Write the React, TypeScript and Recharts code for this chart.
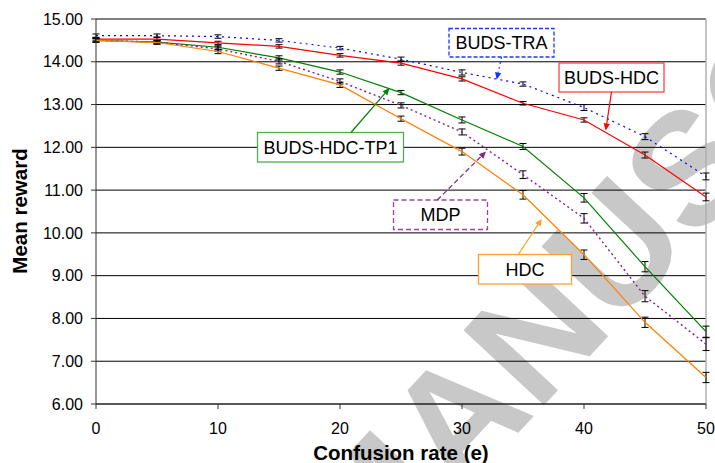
import React from 'react';
import { LineChart, Line, XAxis, YAxis, CartesianGrid, ErrorBar, ReferenceLine } from 'recharts';

// ---- data ----
const confusion = [0, 5, 10, 15, 20, 25, 30, 35, 40, 45, 50];
const budsTra = [14.61, 14.61, 14.59, 14.5, 14.32, 14.06, 13.75, 13.48, 12.93, 12.25, 11.32];
const budsHdc = [14.53, 14.53, 14.44, 14.36, 14.15, 13.97, 13.6, 13.03, 12.64, 11.82, 10.84];
const budsHdcTp1 = [14.5, 14.46, 14.34, 14.09, 13.76, 13.28, 12.64, 12.02, 10.82, 9.21, 7.69];
const mdp = [14.5, 14.46, 14.3, 14.01, 13.54, 12.98, 12.36, 11.36, 10.34, 8.52, 7.4];
const hdc = [14.5, 14.45, 14.24, 13.85, 13.46, 12.67, 11.9, 10.89, 9.49, 7.91, 6.62];

const budsTraErr = [0.04, 0.04, 0.04, 0.04, 0.04, 0.05, 0.06, 0.05, 0.07, 0.07, 0.08];
const budsHdcErr = [0.04, 0.05, 0.04, 0.04, 0.04, 0.05, 0.05, 0.04, 0.05, 0.07, 0.09];
const budsHdcTp1Err = [0.04, 0.04, 0.05, 0.05, 0.05, 0.05, 0.07, 0.07, 0.1, 0.12, 0.13];
const mdpErr = [0.04, 0.04, 0.05, 0.06, 0.06, 0.06, 0.07, 0.09, 0.11, 0.13, 0.15];
const hdcErr = [0.04, 0.04, 0.05, 0.05, 0.06, 0.06, 0.08, 0.1, 0.11, 0.12, 0.12];

const xTicks = [0, 10, 20, 30, 40, 50];
const yTicks = [6, 7, 8, 9, 10, 11, 12, 13, 14, 15];

const xTitle = 'Confusion rate (e)';
const yTitle = 'Mean reward';

const data = confusion.map((e, i) => ({
  e,
  tra: budsTra[i],
  traErr: budsTraErr[i],
  bhdc: budsHdc[i],
  bhdcErr: budsHdcErr[i],
  tp1: budsHdcTp1[i],
  tp1Err: budsHdcTp1Err[i],
  mdp: mdp[i],
  mdpErr: mdpErr[i],
  hdc: hdc[i],
  hdcErr: hdcErr[i],
}));

// ---- annotation callouts (pixel layout) ----
type Callout = {
  text: string;
  box: [number, number, number, number];
  from: [number, number];
  to: [number, number];
  border: string;
  arrow: string;
  boxDash?: string;
  arrowDash?: string;
};

const callouts: Callout[] = [
  { text: 'BUDS-TRA', box: [449, 28.5, 105, 28.5], from: [501.5, 57], to: [496.7, 79.5], border: '#2233ff', arrow: '#1133ff', boxDash: '4 2', arrowDash: '2 3' },
  { text: 'BUDS-HDC', box: [559, 63, 105, 29], from: [611.5, 92], to: [605.7, 130.5], border: '#ff4444', arrow: '#ff0000' },
  { text: 'BUDS-HDC-TP1', box: [257.5, 132.5, 146, 29.5], from: [351, 132.5], to: [389.5, 88], border: '#55aa55', arrow: '#008000' },
  { text: 'MDP', box: [393.5, 200, 94, 29.5], from: [437.3, 200], to: [486, 151.5], border: '#a040a8', arrow: '#882288', boxDash: '5 3', arrowDash: '5 3' },
  { text: 'HDC', box: [478.5, 254.5, 93, 29.5], from: [518.3, 254.5], to: [541.7, 219], border: '#ffa030', arrow: '#ffa020' },
];

const FONT = '"Liberation Sans", Arial, Helvetica, sans-serif';

function Arrow({ c }: { c: Callout }) {
  const [x1, y1] = c.from;
  const [x2, y2] = c.to;
  const dx = x2 - x1;
  const dy = y2 - y1;
  const len = Math.sqrt(dx * dx + dy * dy);
  const ux = dx / len;
  const uy = dy / len;
  const hl = 7;
  const hw = 3.2;
  const bx = x2 - ux * hl;
  const by = y2 - uy * hl;
  const pts = `${x2},${y2} ${bx - uy * hw},${by + ux * hw} ${bx + uy * hw},${by - ux * hw}`;
  return (
    <g>
      <line x1={x1} y1={y1} x2={bx} y2={by} stroke={c.arrow} strokeWidth={1.2} strokeDasharray={c.arrowDash} />
      <polygon points={pts} fill={c.arrow} />
    </g>
  );
}

export default function App() {
  return (
    <div style={{ position: 'absolute', left: 0, top: 0, width: 715, height: 463, background: '#fff', fontFamily: FONT, overflow: 'hidden' }}>
      <svg width={715} height={463} style={{ position: 'absolute', left: 0, top: 0 }}>
        <text
          x={367}
          y={595}
          transform="rotate(-47 367 595)"
          fontFamily={FONT}
          fontWeight="bold"
          fontSize={160}
          fill="#c8c8c8"
        >
          MANUSCRIPT
        </text>
      </svg>
      <div style={{ position: 'absolute', left: 0, top: 0 }}>
        <LineChart width={715} height={463} data={data} margin={{ top: 19, right: 9, bottom: 0, left: 0 }}>
          <CartesianGrid vertical={false} stroke="#000" strokeWidth={1} />
          <XAxis
            dataKey="e"
            type="number"
            domain={[0, 50]}
            ticks={xTicks}
            height={59}
            tickSize={5}
            tickMargin={14}
            stroke="#333"
            tick={{ fontSize: 16, fill: '#000' }}
          />
          <YAxis
            type="number"
            domain={[6, 15]}
            ticks={yTicks}
            width={96}
            tickSize={5}
            tickMargin={8}
            stroke="#333"
            tick={{ fontSize: 16, fill: '#000' }}
            tickFormatter={(v: number) => v.toFixed(2)}
            allowDataOverflow
          />
          <ReferenceLine x={50} stroke="#b0b0b0" strokeWidth={1.5} />
          <Line dataKey="tra" stroke="#0000ff" strokeWidth={1.2} strokeDasharray="2 4" dot={false} isAnimationActive={false}>
            <ErrorBar dataKey="traErr" width={3.5} stroke="#000" strokeWidth={1} direction="y" />
          </Line>
          <Line dataKey="bhdc" stroke="#ff0000" strokeWidth={1.2} dot={false} isAnimationActive={false}>
            <ErrorBar dataKey="bhdcErr" width={3.5} stroke="#000" strokeWidth={1} direction="y" />
          </Line>
          <Line dataKey="tp1" stroke="#008000" strokeWidth={1.2} dot={false} isAnimationActive={false}>
            <ErrorBar dataKey="tp1Err" width={3.5} stroke="#000" strokeWidth={1} direction="y" />
          </Line>
          <Line dataKey="mdp" stroke="#8a1a8a" strokeWidth={1.4} strokeDasharray="2 3" dot={false} isAnimationActive={false}>
            <ErrorBar dataKey="mdpErr" width={3.5} stroke="#000" strokeWidth={1} direction="y" />
          </Line>
          <Line dataKey="hdc" stroke="#ff7f00" strokeWidth={1.2} dot={false} isAnimationActive={false}>
            <ErrorBar dataKey="hdcErr" width={3.5} stroke="#000" strokeWidth={1} direction="y" />
          </Line>
        </LineChart>
      </div>
      <svg width={715} height={463} style={{ position: 'absolute', left: 0, top: 0, pointerEvents: 'none' }}>
        {callouts.map((c) => (
          <g key={c.text}>
            <rect
              x={c.box[0]}
              y={c.box[1]}
              width={c.box[2]}
              height={c.box[3]}
              fill="#fff"
              stroke={c.border}
              strokeWidth={1.3}
              strokeDasharray={c.boxDash}
            />
            <text
              x={c.box[0] + c.box[2] / 2}
              y={c.box[1] + c.box[3] / 2 + 6.5}
              textAnchor="middle"
              fontFamily={FONT}
              fontSize={18}
              fill="#000"
            >
              {c.text}
            </text>
            <Arrow c={c} />
          </g>
        ))}
        <text x={401} y={460} textAnchor="middle" fontFamily={FONT} fontWeight="bold" fontSize={20.5} fill="#000">
          {xTitle}
        </text>
        <text
          x={27}
          y={211}
          transform="rotate(-90 27 211)"
          textAnchor="middle"
          fontFamily={FONT}
          fontWeight="bold"
          fontSize={20.5}
          fill="#000"
        >
          {yTitle}
        </text>
      </svg>
    </div>
  );
}
